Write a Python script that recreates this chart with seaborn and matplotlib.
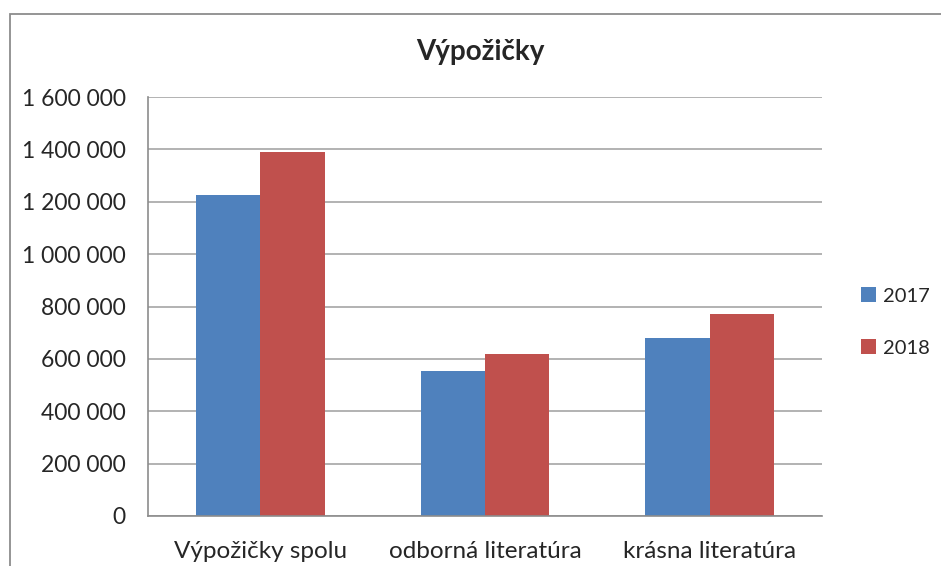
import numpy as np
import matplotlib
matplotlib.use('Agg')
import matplotlib.pyplot as plt
import matplotlib.patches as mpatches
from matplotlib.ticker import FuncFormatter, FixedLocator
import pandas as pd
import seaborn as sns

# data
categories = ['Výpožičky spolu', 'odborná literatúra', 'krásna literatúra']
years = ['2017', '2018']
vals_2017 = [1225000, 555000, 681000]
vals_2018 = [1390000, 620000, 773000]
colors = ['#4F81BD', '#C0504D']

df = pd.DataFrame({
    'kategoria': categories * 2,
    'rok': [years[0]] * 3 + [years[1]] * 3,
    'pocet': vals_2017 + vals_2018,
})

sns.set_style('white')
plt.rcParams['font.family'] = ['Lato', 'DejaVu Sans']

fig = plt.figure(figsize=(9.41, 5.66), dpi=100)
ax = fig.add_axes([148 / 941, 1 - 516 / 566, (822 - 148) / 941, (516 - 97) / 566])

sns.barplot(data=df, x='kategoria', y='pocet', hue='rok', palette=colors,
            width=0.574, gap=0, saturation=1, linewidth=0, ax=ax, legend=True)

ax.set_xlim(-0.5, 2.5)
ax.set_ylim(0, 1600000)
ax.set_yticks(np.arange(0, 1600001, 200000))
ax.yaxis.set_major_formatter(FuncFormatter(lambda v, p: f'{v:,.0f}'.replace(',', ' ')))
ax.yaxis.grid(True, color='#ADADAD', linewidth=1.3)
ax.set_axisbelow(True)

# x ticks sit between categories, labels centred under each group
ax.xaxis.set_major_locator(FixedLocator([-0.5, 0.5, 1.5, 2.5]))
ax.xaxis.set_major_formatter(FuncFormatter(lambda v, p: ''))
ax.xaxis.set_minor_locator(FixedLocator([0, 1, 2]))
ax.set_xticklabels(categories, minor=True)
ax.tick_params(axis='x', which='major', length=6, width=1, color='#8C8C8C', direction='out')
ax.tick_params(axis='x', which='minor', length=0, pad=18, labelsize=17.5)
ax.tick_params(axis='y', length=6, width=1, color='#8C8C8C', direction='out',
               pad=10, labelsize=16.5)
ax.set_xlabel('')
ax.set_ylabel('')

for s in ['top', 'right']:
    ax.spines[s].set_visible(False)
for s in ['left', 'bottom']:
    ax.spines[s].set_color('#8C8C8C')
    ax.spines[s].set_linewidth(1.2)

fig.text(480 / 941, 1 - 52 / 566, 'Výpožičky', ha='center', va='center',
         fontsize=20, fontweight='bold')

handles, labels = ax.get_legend_handles_labels()
ax.legend(handles, labels, loc='center left', bbox_to_anchor=(861 / 941, 1 - 322 / 566),
          bbox_transform=fig.transFigure, frameon=False, fontsize=14.5,
          borderpad=0, borderaxespad=0,
          handlelength=0.75, handleheight=0.75, labelspacing=1.7, handletextpad=0.35)

# outer chart frame, cut off at right and bottom like the screenshot
frame = mpatches.Rectangle((10 / 941, -0.1), 1.2, 1 - 14 / 566 + 0.1,
                           transform=fig.transFigure, fill=False,
                           edgecolor='#8C8C8C', linewidth=1.3, clip_on=False)
fig.patches.append(frame)

plt.savefig('out.png', dpi=100)
